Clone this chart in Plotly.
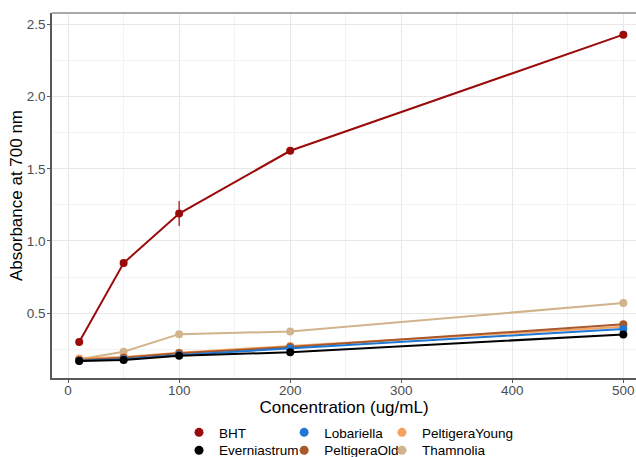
import plotly.graph_objects as go

conc = [10, 50, 100, 200, 500]
series_names = ["BHT", "Everniastrum", "Lobariella", "PeltigeraOld", "PeltigeraYoung", "Thamnolia"]
bht = [0.30, 0.847, 1.19, 1.625, 2.43]
everniastrum = [0.168, 0.175, 0.205, 0.228, 0.352]
lobariella = [0.170, 0.180, 0.210, 0.255, 0.390]
peltigera_old = [0.175, 0.190, 0.222, 0.265, 0.422]
peltigera_young = [0.185, 0.195, 0.225, 0.272, 0.405]
thamnolia = [0.180, 0.232, 0.354, 0.372, 0.570]
bht_err = [0.0, 0.0, 0.087, 0.0, 0.0]

colors = {
    "BHT": "#9b0a0a",
    "Everniastrum": "#000000",
    "Lobariella": "#1f77d4",
    "PeltigeraOld": "#a8582a",
    "PeltigeraYoung": "#f4a261",
    "Thamnolia": "#d2b48c",
}
values = {
    "BHT": bht, "Everniastrum": everniastrum, "Lobariella": lobariella,
    "PeltigeraOld": peltigera_old, "PeltigeraYoung": peltigera_young,
    "Thamnolia": thamnolia,
}
# legend grid: (column, row)
legend_cell = {"BHT": (0, 0), "Lobariella": (1, 0), "PeltigeraYoung": (2, 0),
               "Everniastrum": (0, 1), "PeltigeraOld": (1, 1), "Thamnolia": (2, 1)}
col_x = [0.2175, 0.3975, 0.5650]
row_y = [-0.107, -0.156]

fig = go.Figure()
draw_order = ["Thamnolia", "PeltigeraYoung", "PeltigeraOld", "Lobariella", "Everniastrum", "BHT"]
for name in draw_order:
    tr = dict(
        x=conc, y=values[name], mode="lines+markers", name=name,
        line=dict(color=colors[name], width=2),
        marker=dict(color=colors[name], size=8),
        showlegend=False,
    )
    if name == "BHT":
        tr["error_y"] = dict(type="data", array=bht_err, visible=True,
                             color=colors[name], thickness=1.2, width=0)
    fig.add_trace(go.Scatter(**tr))

legend_layout = {}
for i, name in enumerate(series_names):
    key = "legend" if i == 0 else f"legend{i + 1}"
    c, r = legend_cell[name]
    fig.add_trace(go.Scatter(
        x=[None], y=[None], mode="markers", name=name,
        marker=dict(color=colors[name], size=9),
        legend=key, showlegend=True,
    ))
    legend_layout[key] = dict(
        orientation="h", yanchor="top", xanchor="left", x=col_x[c], y=row_y[r],
        font=dict(size=13.5, color="#000000"), itemwidth=30,
        bgcolor="rgba(0,0,0,0)",
    )

fig.update_layout(
    width=636, height=457,
    margin=dict(l=52, r=0, t=13, b=79, autoexpand=False),
    paper_bgcolor="white", plot_bgcolor="white",
    font=dict(family="Liberation Sans, Arial, sans-serif", color="#000000"),
    showlegend=True,
    **legend_layout,
)
fig.update_xaxes(
    range=[-14.5, 511.4], tickvals=[0, 100, 200, 300, 400, 500],
    showgrid=True, gridcolor="#e8e8e8", gridwidth=1,
    minor=dict(tickvals=[50, 150, 250, 350, 450], showgrid=True, gridcolor="#f3f3f3", gridwidth=0.6),
    showline=True, linecolor="#595959", linewidth=1.5,
    ticks="outside", ticklen=3, tickcolor="#595959",
    tickfont=dict(size=13.5, color="#4d4d4d"), ticklabelstandoff=-4,
    title=dict(text="Concentration (ug/mL)", font=dict(size=17, color="#000000"), standoff=0),
    zeroline=False, automargin=False,
)
fig.update_yaxes(
    range=[0.05, 2.58], tickvals=[0.5, 1.0, 1.5, 2.0, 2.5], ticktext=["0.5", "1.0", "1.5", "2.0", "2.5"],
    showgrid=True, gridcolor="#e8e8e8", gridwidth=1,
    minor=dict(tickvals=[0.25, 0.75, 1.25, 1.75, 2.25], showgrid=True, gridcolor="#f3f3f3", gridwidth=0.6),
    showline=True, linecolor="#595959", linewidth=1.5,
    ticks="outside", ticklen=3, tickcolor="#595959",
    tickfont=dict(size=13.5, color="#4d4d4d"), ticklabelstandoff=-1,
    title=dict(text="Absorbance at 700 nm", font=dict(size=17, color="#000000"), standoff=0),
    zeroline=False, automargin=False,
)
fig.add_shape(type="line", xref="paper", yref="paper", x0=0, x1=1, y0=1, y1=1,
              line=dict(color="#8c8c8c", width=1.5))

fig.write_html("out.html")
